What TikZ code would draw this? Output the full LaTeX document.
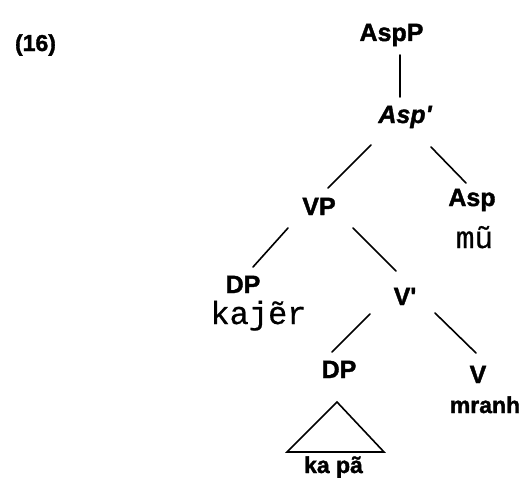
\documentclass[tikz,border=0pt]{standalone}
\usepackage{fontspec}
\usetikzlibrary{calc}
\newfontfamily\catfont{Liberation Sans}[BoldFeatures={FakeBold=1.5}, BoldItalicFeatures={FakeBold=1.5}]
\newfontfamily\wordfont{Liberation Mono}[FakeBold=0.6]
\begin{document}
\begin{tikzpicture}[x=1pt,y=-1pt,
  cat/.style={font=\fontsize{25}{30}\selectfont\catfont\bfseries, anchor=base,
              inner sep=0pt, text height=18pt, text depth=5pt},
  word/.style={font=\fontsize{31}{36}\selectfont\wordfont, anchor=base, inner sep=0pt},
  leaf/.style={font=\fontsize{23}{28}\selectfont\catfont\bfseries, anchor=base, inner sep=0pt},
  branch/.style={line width=1.6pt, line cap=round}]
\useasboundingbox (0,0) rectangle (523,479);

% example number
\node[leaf] (ex) at (35.5,51) {(16)};

% category labels
\node[cat] (aspp)   at (391.5,41) {AspP};
\node[cat, font=\fontsize{25}{30}\selectfont\catfont\bfseries\itshape]
           (aspbar) at (405,123) {Asp'};
\node[cat] (vp)     at (319,215)  {VP};
\node[cat] (asp)    at (472,206)  {Asp};
\node[cat] (dpsubj) at (243,293)  {DP};
\node[cat] (vbar)   at (405,305)  {V'};
\node[cat] (dpobj)  at (339,378)  {DP};
\node[cat] (v)      at (478,383)  {V};

% words
\node[word] (mu)    at (474.5,248) {mũ};
\node[word, font=\fontsize{32}{36}\selectfont\wordfont] (kajer) at (258.5,324) {kajẽr};
\node[leaf] (mranh) at (485,413) {mranh};
\node[leaf] (kapa)  at (333.5,473) {ka pã};

% branches
\draw[branch] ($(aspp)+(8.5,20.5)$) -- ($(aspbar)+(-5,-19.5)$);
\draw[branch] ($(aspbar)+(-34,28.5)$) -- ($(vp)+(9,-20.5)$);
\draw[branch] ($(aspbar)+(26,30.5)$) -- ($(asp)+(-6,-16.5)$);
\draw[branch] ($(vp)+(-31,19.5)$) -- ($(dpsubj)+(10,-19.5)$);
\draw[branch] ($(vp)+(34,19.5)$) -- ($(vbar)+(-9,-27.5)$);
\draw[branch] ($(vbar)+(-35,15.5)$) -- ($(dpobj)+(-7,-19.5)$);
\draw[branch] ($(vbar)+(30,14.5)$) -- ($(v)+(-2,-23.5)$);

% roof over the object DP
\draw[branch, line join=miter] ($(dpobj)+(-2,30.5)$) -- ($(dpobj)+(-52,80.5)$)
  -- ($(dpobj)+(45,80.5)$) -- cycle;
\end{tikzpicture}
\end{document}
